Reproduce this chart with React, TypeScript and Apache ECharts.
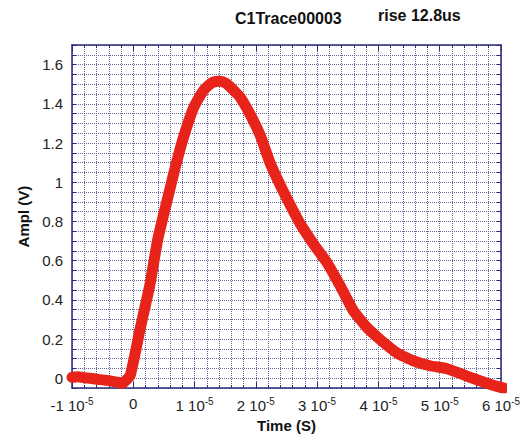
import React, { useEffect, useRef } from "react";
import * as echarts from "echarts";

// Time in units of 1e-5 s, amplitude in volts
const timeE5: number[] = [
  -1.0, -0.9, -0.8, -0.7, -0.6, -0.5, -0.4, -0.3, -0.22, -0.18, -0.05, 0.11, 0.27, 0.4, 0.55, 0.68, 0.81,
  0.97, 1.06, 1.14, 1.22, 1.3, 1.41, 1.5, 1.57, 1.65, 1.74, 1.9, 2.07, 2.23, 2.39, 2.55, 2.72, 2.93, 3.16, 3.37, 3.58,
  3.81, 4.02, 4.3, 4.56, 4.84, 5.11, 5.33, 5.54, 5.77, 5.98, 6.05,
];
const ampl: number[] = [
  0.005, 0.008, 0.003, 0.0, -0.005, -0.008, -0.012, -0.018, -0.022, -0.025, 0.015, 0.25, 0.475, 0.71, 0.905, 1.07, 1.22,
  1.37, 1.425, 1.465, 1.492, 1.51, 1.515, 1.507, 1.49, 1.465, 1.435, 1.35, 1.24, 1.1, 0.99, 0.89, 0.79, 0.69, 0.59, 0.475, 0.35,
  0.26, 0.2, 0.13, 0.09, 0.064, 0.05, 0.025, 0.0, -0.025, -0.045, -0.05,
];
const titleMain = "C1Trace00003";
const titleRise = "rise 12.8us";
const xName = "Time (S)";
const yName = "Ampl (V)";

export default function App() {
  const ref = useRef<HTMLDivElement>(null);
  useEffect(() => {
    if (!ref.current) return;
    const chart = echarts.init(ref.current, null, { renderer: "svg" });
    const font = "'Liberation Sans', Arial, Helvetica, sans-serif";
    const frame = "#2b2b7a";
    const gridCol = "#66669a";
    const data = timeE5.map((t, i) => [t * 1e-5, ampl[i]]);
    const xFmt = (v: number) => {
      const n = Math.round(v * 1e5);
      if (n === 0) return "{b|0}";
      return `{b|${n} 10}{s|-5}`;
    };
    const yFmt = (v: number) => {
      const r = v / 0.2;
      if (Math.abs(r - Math.round(r)) < 1e-6) return String(Math.round(v * 10) / 10);
      return "";
    };
    chart.setOption({
      animation: false,
      backgroundColor: "#ffffff",
      title: [
        { text: titleMain, left: 230, top: 5, textStyle: { fontFamily: font, fontSize: 16, fontWeight: "bold", color: "#111" } },
        { text: titleRise, left: 373, top: 2, textStyle: { fontFamily: font, fontSize: 16, fontWeight: "bold", color: "#111" } },
      ],
      grid: { left: 72, right: 27, top: 45, bottom: 45, containLabel: false },
      xAxis: [
        {
          type: "value",
          min: -1e-5,
          max: 6e-5,
          interval: 1e-5,
          name: xName,
          nameLocation: "middle",
          nameGap: 24,
          nameTextStyle: { fontFamily: font, fontSize: 15, fontWeight: "bold", color: "#111" },
          axisLine: { show: true, onZero: false, lineStyle: { color: frame, width: 1.5 } },
          axisTick: { show: true, inside: true, length: 6, lineStyle: { color: frame } },
          minorTick: { show: true, splitNumber: 5, length: 3, lineStyle: { color: frame } },
          splitLine: { show: true, lineStyle: { color: gridCol, type: "dotted", width: 1 } },
          minorSplitLine: { show: true, lineStyle: { color: gridCol, type: "dotted", width: 1 } },
          axisLabel: {
            formatter: xFmt,
            margin: 8,
            rich: {
              b: { fontFamily: font, fontSize: 15, color: "#222" },
              s: { fontFamily: font, fontSize: 10, color: "#222", padding: [0, 0, 9, 0] },
            },
          },
        },
        {
          type: "value",
          position: "top",
          min: -1e-5,
          max: 6e-5,
          interval: 1e-5,
          axisLine: { show: true, onZero: false, lineStyle: { color: frame, width: 1.5 } },
          axisTick: { show: true, inside: true, length: 6, lineStyle: { color: frame } },
          minorTick: { show: true, splitNumber: 5, length: 3, lineStyle: { color: frame } },
          splitLine: { show: false },
          axisLabel: { show: false },
        },
      ],
      yAxis: [
        {
          type: "value",
          min: -0.05,
          max: 1.7,
          interval: 0.05,
          name: yName,
          nameLocation: "middle",
          nameGap: 40,
          nameRotate: 90,
          nameTextStyle: { fontFamily: font, fontSize: 15, fontWeight: "bold", color: "#111" },
          axisLine: { show: true, onZero: false, lineStyle: { color: frame, width: 1.5 } },
          axisTick: { show: true, inside: true, length: 4, lineStyle: { color: frame } },
          splitLine: { show: true, lineStyle: { color: gridCol, type: "dotted", width: 1 } },
          axisLabel: { formatter: yFmt, margin: 9, fontFamily: font, fontSize: 15, color: "#222" },
        },
        {
          type: "value",
          position: "right",
          min: -0.05,
          max: 1.7,
          interval: 0.05,
          axisLine: { show: true, onZero: false, lineStyle: { color: frame, width: 1.5 } },
          axisTick: { show: true, inside: true, length: 4, lineStyle: { color: frame } },
          splitLine: { show: false },
          axisLabel: { show: false },
        },
      ],
      series: [
        {
          type: "line",
          data,
          xAxisIndex: 0,
          yAxisIndex: 0,
          showSymbol: false,
          symbol: "none",
          smooth: 0.15,
          clip: true,
          lineStyle: { color: "#e8231a", width: 11, cap: "round", join: "round" },
        },
      ],
    });
    return () => chart.dispose();
  }, []);
  return <div ref={ref} style={{ width: 528, height: 438, position: "absolute", left: 0, top: 0 }} />;
}
